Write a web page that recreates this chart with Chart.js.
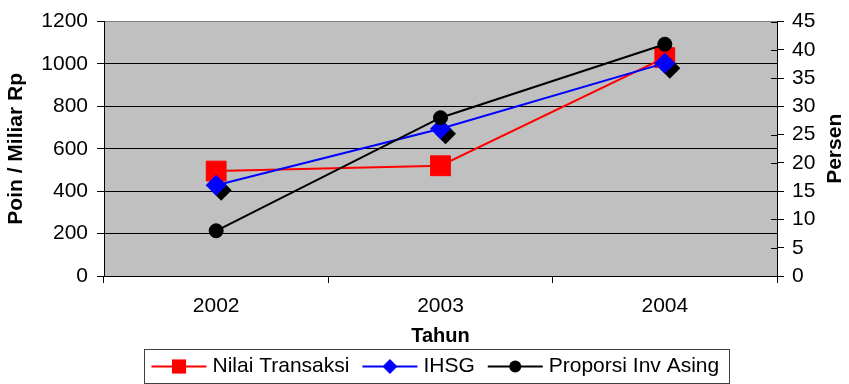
<!DOCTYPE html>
<html>
<head>
<meta charset="utf-8">
<script src="https://cdn.jsdelivr.net/npm/chart.js@4/dist/chart.umd.min.js"></script>
<style>
  html, body { margin: 0; padding: 0; background: #fff; }
  canvas { display: block; }
</style>
</head>
<body>
<canvas id="chart" width="849" height="384"></canvas>
<script>
// Categories and series
const years = ['2002', '2003', '2004'];
const nilaiTransaksi = [495, 520, 1030];     // Poin / Miliar Rp
const ihsg = [428, 695, 1004];               // Poin / Miliar Rp
const proporsiInvAsing = [8, 28, 41];        // Persen

// Axis ranges
const leftAxis = [0, 1200, 200];   // min, max, step
const rightAxis = [0, 45, 5];

const FONT = "'Liberation Sans', Arial, sans-serif";

// Grey plot area
const plotBackground = {
  id: 'plotBackground',
  beforeDraw(chart) {
    const { ctx, chartArea: a } = chart;
    ctx.save();
    ctx.fillStyle = '#C0C0C0';
    ctx.fillRect(a.left, a.top, a.right - a.left, a.bottom - a.top);
    ctx.restore();
  }
};

function diamond(ctx, x, y, r) {
  ctx.beginPath();
  ctx.moveTo(x - r, y);
  ctx.lineTo(x, y - r);
  ctx.lineTo(x + r, y);
  ctx.lineTo(x, y + r);
  ctx.closePath();
  ctx.fill();
}

// Dark drop shadow behind the IHSG diamonds
const diamondShadow = {
  id: 'diamondShadow',
  beforeDatasetDraw(chart, args) {
    const ds = chart.data.datasets[args.index];
    if (ds.pointStyle !== 'rectRot') return;
    const ctx = chart.ctx;
    ctx.save();
    ctx.fillStyle = '#000';
    args.meta.data.forEach(pt => diamond(ctx, pt.x + 5, pt.y + 5, ds.pointRadius));
    ctx.restore();
  }
};

// Right axis inner ticks, right axis title and the boxed legend
const extras = {
  id: 'extras',
  afterDraw(chart) {
    const { ctx, chartArea: a } = chart;
    const y1 = chart.scales.y1;
    ctx.save();

    // tick marks crossing into the plot on the right axis
    ctx.strokeStyle = '#000';
    ctx.lineWidth = 1;
    y1.ticks.forEach(t => {
      const py = Math.round(y1.getPixelForValue(t.value)) + 0.5;
      ctx.beginPath();
      ctx.moveTo(a.right - 6, py);
      ctx.lineTo(a.right, py);
      ctx.stroke();
    });

    // right axis title
    ctx.save();
    ctx.translate(835, (a.top + a.bottom) / 2);
    ctx.rotate(-Math.PI / 2);
    ctx.font = `bold 21px ${FONT}`;
    ctx.fillStyle = '#000';
    ctx.textAlign = 'center';
    ctx.textBaseline = 'middle';
    ctx.fillText('Persen', 0, 0);
    ctx.restore();

    // legend
    const legendR = { rect: 10, rectRot: 7.5, circle: 6 };
    const items = chart.data.datasets.map(ds => ({
      label: ds.label, color: ds.borderColor, style: ds.pointStyle
    }));
    ctx.font = `21px ${FONT}`;
    const lineLen = 55, gapLT = 6, gapItem = 13, padL = 7, padR = 10;
    let total = padL + padR;
    items.forEach((it, i) => {
      total += lineLen + gapLT + ctx.measureText(it.label).width + (i < items.length - 1 ? gapItem : 0);
    });
    total = Math.round(total);
    const boxLeft = Math.round(436 - total / 2) + 0.5;
    const boxTop = 349.5, boxH = 34;
    ctx.fillStyle = '#fff';
    ctx.fillRect(boxLeft, boxTop, total, boxH);
    ctx.strokeStyle = '#404040';
    ctx.strokeRect(boxLeft, boxTop, total, boxH);

    let x = boxLeft + padL;
    const cy = 366.5;
    items.forEach(it => {
      ctx.strokeStyle = it.color;
      ctx.lineWidth = 2;
      ctx.beginPath();
      ctx.moveTo(x, cy);
      ctx.lineTo(x + lineLen, cy);
      ctx.stroke();
      const mx = x + lineLen / 2, r = legendR[it.style];
      ctx.fillStyle = it.color;
      if (it.style === 'rect') {
        const s = r * Math.SQRT1_2;
        ctx.fillRect(mx - s, cy - s, 2 * s, 2 * s);
      } else if (it.style === 'rectRot') {
        diamond(ctx, mx, cy, r);
      } else {
        ctx.beginPath();
        ctx.arc(mx, cy, r, 0, Math.PI * 2);
        ctx.fill();
      }
      ctx.fillStyle = '#000';
      ctx.textAlign = 'left';
      ctx.textBaseline = 'middle';
      const tx = x + lineLen + gapLT;
      ctx.fillText(it.label, tx, cy);
      x = tx + ctx.measureText(it.label).width + gapItem;
    });
    ctx.restore();
  }
};

new Chart(document.getElementById('chart'), {
  type: 'line',
  data: {
    labels: years,
    datasets: [
      {
        label: 'Nilai Transaksi',
        data: nilaiTransaksi,
        yAxisID: 'y',
        borderColor: '#FF0000',
        backgroundColor: '#FF0000',
        pointBackgroundColor: '#FF0000',
        pointBorderColor: '#FF0000',
        pointStyle: 'rect',
        pointRadius: 14,
        pointBorderWidth: 1,
        borderWidth: 2,
        tension: 0,
        order: 3
      },
      {
        label: 'IHSG',
        data: ihsg,
        yAxisID: 'y',
        borderColor: '#0000FF',
        backgroundColor: '#0000FF',
        pointBackgroundColor: '#0000FF',
        pointBorderColor: '#0000FF',
        pointStyle: 'rectRot',
        pointRadius: 10.5,
        pointBorderWidth: 0,
        borderWidth: 2,
        tension: 0,
        order: 2
      },
      {
        label: 'Proporsi Inv Asing',
        data: proporsiInvAsing,
        yAxisID: 'y1',
        borderColor: '#000000',
        backgroundColor: '#000000',
        pointBackgroundColor: '#000000',
        pointBorderColor: '#000000',
        pointStyle: 'circle',
        pointRadius: 7,
        pointBorderWidth: 1,
        borderWidth: 2,
        tension: 0,
        order: 1
      }
    ]
  },
  options: {
    responsive: false,
    animation: false,
    events: [],
    layout: { padding: { top: 17, left: 0, right: 0, bottom: 35 } },
    plugins: {
      legend: { display: false },
      tooltip: { enabled: false }
    },
    scales: {
      x: {
        type: 'category',
        offset: true,
        afterFit: s => { s.height = 73; },
        grid: {
          offset: true,
          drawOnChartArea: false,
          tickLength: 7,
          tickColor: '#000'
        },
        border: { color: '#000', width: 1 },
        ticks: {
          color: '#000',
          font: { family: FONT, size: 21 },
          padding: 11,
          maxRotation: 0
        },
        title: {
          display: true,
          text: 'Tahun',
          color: '#000',
          font: { family: FONT, size: 20, weight: 'bold' },
          padding: { top: 0, bottom: 1 }
        }
      },
      y: {
        position: 'left',
        min: leftAxis[0],
        max: leftAxis[1],
        afterFit: s => { s.width = 104; },
        grid: {
          color: c => (c.tick && (c.tick.value === leftAxis[0] || c.tick.value === leftAxis[1])) ? '#808080' : '#000',
          tickColor: '#000',
          tickLength: 7,
          lineWidth: 1
        },
        border: { color: '#000', width: 1 },
        ticks: {
          stepSize: leftAxis[2],
          color: '#000',
          font: { family: FONT, size: 21 },
          padding: 9,
          callback: v => String(v)
        },
        title: {
          display: true,
          text: 'Poin / Miliar Rp',
          color: '#000',
          font: { family: FONT, size: 21, weight: 'bold' },
          padding: { top: 4, bottom: 0 }
        }
      },
      y1: {
        position: 'right',
        min: rightAxis[0],
        max: rightAxis[1],
        afterFit: s => { s.width = 72; },
        grid: {
          drawOnChartArea: false,
          tickColor: '#000',
          tickLength: 7
        },
        border: { color: '#000', width: 1 },
        ticks: {
          stepSize: rightAxis[2],
          color: '#000',
          font: { family: FONT, size: 21 },
          padding: 8,
          callback: v => String(v)
        }
      }
    }
  },
  plugins: [plotBackground, diamondShadow, extras]
});
</script>
</body>
</html>
